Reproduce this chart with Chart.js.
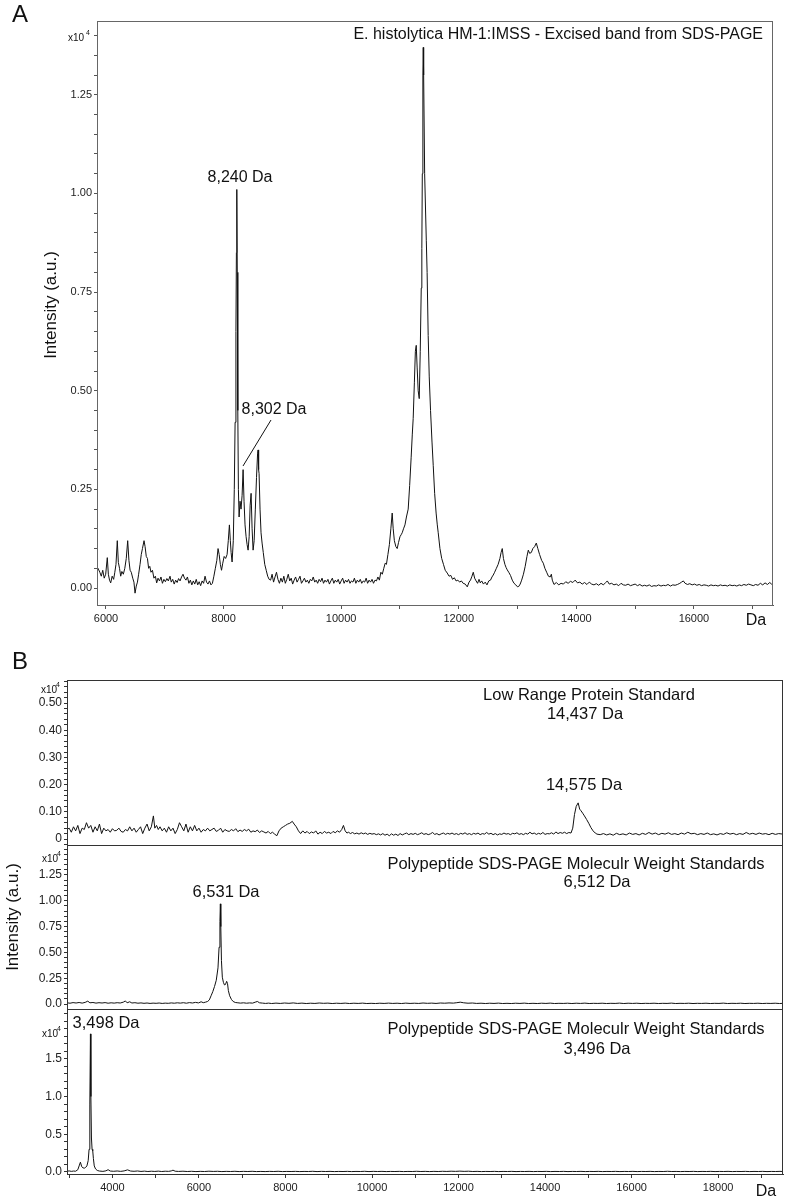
<!DOCTYPE html>
<html>
<head>
<meta charset="utf-8">
<script src="https://cdn.jsdelivr.net/npm/chart.js@4.4.1/dist/chart.umd.min.js"></script>
<style>
  html, body { margin: 0; padding: 0; background: #fff; }
  #wrap { position: relative; width: 789px; height: 1200px; }
  #wrap canvas { position: absolute; left: 0; top: 0; }
</style>
</head>
<body>
<div id="wrap">
  <canvas id="chartA" width="789" height="1200"></canvas>
  <canvas id="chartB1" width="789" height="1200"></canvas>
  <canvas id="chartB2" width="789" height="1200"></canvas>
  <canvas id="chartB3" width="789" height="1200"></canvas>
</div>
<script>
// spectra: [mass in Da, intensity x10^4]
const spectrumExcised = [
  [5847,0.054],[5870,0.048],[5895,0.040],[5920,0.030],[5945,0.045],[5970,0.025],[5995,0.035],[6022,0.077],[6040,0.035],[6060,0.020],
  [6080,0.013],[6105,0.030],[6130,0.022],[6150,0.040],[6170,0.060],[6192,0.120],[6210,0.065],[6230,0.050],[6250,0.030],[6270,0.042],
  [6295,0.035],[6320,0.050],[6345,0.075],[6369,0.120],[6390,0.070],[6410,0.045],[6430,0.040],[6455,0.025],[6475,0.015],[6494,-0.013],
  [6515,0.005],[6535,0.015],[6555,0.035],[6579,0.060],[6600,0.085],[6620,0.100],[6647,0.120],[6665,0.105],[6685,0.080],[6705,0.075],
  [6725,0.050],[6745,0.055],[6765,0.040],[6790,0.045],[6815,0.025],[6840,0.030],[6862,0.013],[6885,0.025],[6910,0.018],[6935,0.028],
  [6960,0.012],[6985,0.022],[7010,0.016],[7035,0.024],[7060,0.018],[7089,0.030],[7110,0.015],[7135,0.022],[7160,0.010],[7185,0.020],
  [7210,0.014],[7235,0.024],[7260,0.018],[7285,0.028],[7310,0.035],[7335,0.025],[7360,0.020],[7385,0.028],[7410,0.012],[7435,0.020],
  [7460,0.008],[7485,0.018],[7510,0.010],[7535,0.022],[7560,0.008],[7585,0.016],[7610,0.006],[7635,0.018],[7660,0.012],[7685,0.030],
  [7710,0.015],[7735,0.010],[7760,0.018],[7785,0.008],[7810,0.012],[7835,0.030],[7860,0.050],[7885,0.070],[7906,0.100],[7925,0.085],
  [7945,0.060],[7965,0.045],[7986,0.063],[8010,0.080],[8035,0.075],[8060,0.085],[8080,0.120],[8099,0.160],[8115,0.120],[8128,0.090],
  [8145,0.066],[8165,0.120],[8182,0.250],[8196,0.420],[8210,0.650],[8218,0.850],[8225,1.010],[8233,0.800],[8242,0.450],[8252,0.250],
  [8264,0.180],[8280,0.220],[8297,0.200],[8315,0.235],[8332,0.300],[8348,0.220],[8365,0.160],[8383,0.130],[8400,0.110],[8417,0.096],
  [8435,0.130],[8452,0.210],[8468,0.240],[8485,0.150],[8502,0.096],[8520,0.120],[8540,0.200],[8560,0.280],[8578,0.340],[8587,0.350],
  [8596,0.300],[8604,0.290],[8620,0.200],[8637,0.140],[8655,0.114],[8675,0.090],[8700,0.060],[8725,0.045],[8750,0.030],[8775,0.022],
  [8800,0.020],[8825,0.035],[8850,0.015],[8875,0.028],[8900,0.040],[8925,0.022],[8950,0.012],[8975,0.025],[9000,0.015],[9025,0.030],
  [9050,0.012],[9075,0.022],[9100,0.035],[9125,0.018],[9150,0.025],[9175,0.010],[9200,0.020],[9225,0.028],[9250,0.015],[9275,0.022],
  [9300,0.030],[9325,0.012],[9350,0.018],[9375,0.025],[9400,0.015],[9425,0.020],[9450,0.012],[9475,0.022],[9500,0.018],[9525,0.028],
  [9550,0.015],[9575,0.020],[9600,0.012],[9625,0.022],[9650,0.016],[9675,0.025],[9700,0.012],[9725,0.020],[9750,0.015],[9775,0.022],
  [9800,0.010],[9825,0.018],[9850,0.025],[9875,0.012],[9900,0.020],[9925,0.015],[9950,0.022],[9975,0.010],[10000,0.018],[10025,0.025],
  [10050,0.012],[10075,0.020],[10100,0.015],[10125,0.022],[10150,0.012],[10175,0.018],[10200,0.015],[10225,0.025],[10250,0.012],[10275,0.020],
  [10300,0.015],[10325,0.022],[10350,0.012],[10375,0.018],[10400,0.015],[10425,0.025],[10450,0.012],[10475,0.020],[10500,0.015],[10525,0.022],
  [10550,0.012],[10575,0.020],[10600,0.018],[10625,0.028],[10650,0.020],[10675,0.040],[10700,0.035],[10725,0.050],[10749,0.063],[10770,0.060],
  [10795,0.085],[10820,0.110],[10845,0.150],[10868,0.190],[10885,0.150],[10905,0.120],[10930,0.105],[10953,0.100],[10975,0.115],[11000,0.130],
  [11020,0.135],[11038,0.140],[11060,0.150],[11085,0.160],[11110,0.180],[11140,0.200],[11165,0.260],[11190,0.330],[11210,0.390],[11225,0.430],
  [11245,0.520],[11262,0.600],[11277,0.615],[11292,0.560],[11310,0.500],[11328,0.480],[11345,0.600],[11362,0.760],[11372,0.860],[11380,1.050],
  [11390,1.300],[11396,1.370],[11403,1.300],[11420,1.050],[11448,0.880],[11462,0.800],[11480,0.640],[11498,0.535],[11520,0.450],[11545,0.370],
  [11566,0.310],[11590,0.240],[11615,0.190],[11635,0.160],[11651,0.140],[11680,0.100],[11710,0.075],[11740,0.060],[11770,0.045],[11804,0.038],
  [11835,0.030],[11865,0.032],[11895,0.022],[11925,0.026],[11955,0.018],[11985,0.020],[12015,0.015],[12045,0.018],[12075,0.012],[12110,0.010],
  [12145,0.003],[12175,0.015],[12200,0.020],[12225,0.030],[12247,0.040],[12270,0.025],[12295,0.018],[12320,0.012],[12345,0.022],[12366,0.013],
  [12390,0.018],[12420,0.010],[12450,0.015],[12480,0.008],[12510,0.018],[12540,0.020],[12565,0.028],[12587,0.033],[12610,0.040],[12640,0.050],
  [12670,0.060],[12700,0.075],[12720,0.090],[12740,0.100],[12760,0.075],[12785,0.060],[12805,0.052],[12825,0.046],[12850,0.040],[12880,0.032],
  [12910,0.020],[12940,0.012],[12970,0.008],[13000,0.003],[13020,0.004],[13045,0.010],[13070,0.020],[13100,0.035],[13130,0.055],[13160,0.080],
  [13183,0.096],[13205,0.088],[13234,0.090],[13260,0.100],[13290,0.105],[13319,0.114],[13345,0.100],[13375,0.085],[13410,0.070],[13438,0.063],
  [13465,0.050],[13495,0.040],[13525,0.030],[13555,0.028],[13575,0.035],[13591,0.020],[13620,0.009],[13660,0.014],[13700,0.008],[13740,0.012],
  [13780,0.010],[13820,0.016],[13860,0.012],[13900,0.017],[13940,0.014],[13980,0.020],[14020,0.013],[14060,0.015],[14100,0.010],[14140,0.014],
  [14180,0.009],[14220,0.015],[14260,0.010],[14300,0.008],[14340,0.011],[14380,0.007],[14420,0.012],[14460,0.008],[14500,0.014],[14527,0.018],
  [14560,0.010],[14600,0.012],[14640,0.008],[14680,0.010],[14720,0.006],[14760,0.012],[14800,0.008],[14840,0.007],[14880,0.010],[14920,0.006],
  [14960,0.008],[15000,0.010],[15040,0.006],[15080,0.009],[15120,0.005],[15160,0.007],[15200,0.005],[15240,0.008],[15280,0.004],[15320,0.006],
  [15360,0.005],[15400,0.008],[15440,0.005],[15480,0.007],[15520,0.006],[15560,0.009],[15600,0.005],[15640,0.008],[15680,0.007],[15720,0.009],
  [15760,0.012],[15790,0.015],[15820,0.018],[15850,0.012],[15890,0.009],[15930,0.011],[15970,0.008],[16010,0.010],[16050,0.007],[16090,0.009],
  [16130,0.006],[16170,0.008],[16210,0.007],[16250,0.005],[16290,0.008],[16330,0.006],[16370,0.007],[16410,0.005],[16450,0.008],[16490,0.006],
  [16530,0.007],[16570,0.005],[16610,0.008],[16650,0.006],[16690,0.007],[16730,0.005],[16770,0.008],[16810,0.006],[16850,0.009],[16890,0.007],
  [16930,0.010],[16970,0.008],[17010,0.006],[17050,0.009],[17090,0.007],[17130,0.012],[17170,0.008],[17210,0.013],[17250,0.009],[17290,0.014],
  [17320,0.010],[17345,0.012]
]

const spectrumLowRange = [
  [2950,0.035],[3000,0.040],[3050,0.025],[3100,0.045],[3150,0.030],[3200,0.050],[3250,0.020],[3300,0.040],[3350,0.035],[3400,0.060],
  [3450,0.040],[3500,0.050],[3550,0.025],[3600,0.045],[3650,0.030],[3700,0.055],[3750,0.020],[3800,0.040],[3850,0.030],[3900,0.035],
  [3950,0.025],[4000,0.038],[4050,0.030],[4100,0.032],[4150,0.040],[4200,0.028],[4250,0.025],[4300,0.035],[4350,0.030],[4400,0.045],
  [4450,0.030],[4500,0.040],[4550,0.025],[4600,0.035],[4650,0.045],[4700,0.020],[4750,0.040],[4800,0.055],[4850,0.030],[4900,0.045],
  [4947,0.085],[4980,0.040],[5020,0.050],[5060,0.035],[5100,0.045],[5150,0.030],[5200,0.040],[5250,0.025],[5300,0.045],[5350,0.030],
  [5400,0.040],[5450,0.020],[5500,0.035],[5550,0.060],[5600,0.045],[5650,0.030],[5700,0.055],[5750,0.025],[5800,0.045],[5850,0.030],
  [5900,0.050],[5950,0.030],[6000,0.040],[6050,0.025],[6100,0.035],[6150,0.030],[6200,0.040],[6250,0.030],[6300,0.035],[6350,0.040],
  [6400,0.028],[6450,0.032],[6500,0.040],[6550,0.025],[6600,0.035],[6650,0.030],[6700,0.028],[6750,0.035],[6800,0.030],[6850,0.038],
  [6900,0.027],[6950,0.033],[7000,0.028],[7050,0.035],[7100,0.030],[7150,0.036],[7200,0.025],[7250,0.030],[7300,0.027],[7350,0.033],
  [7400,0.024],[7450,0.030],[7500,0.026],[7550,0.022],[7600,0.028],[7650,0.020],[7700,0.025],[7750,0.018],[7800,0.012],[7850,0.030],
  [7900,0.040],[7950,0.045],[8000,0.050],[8050,0.055],[8100,0.058],[8158,0.065],[8200,0.055],[8250,0.045],[8300,0.030],[8350,0.020],
  [8400,0.030],[8450,0.022],[8500,0.028],[8550,0.020],[8600,0.026],[8650,0.022],[8700,0.030],[8750,0.018],[8800,0.025],[8850,0.020],
  [8900,0.028],[8950,0.022],[9000,0.025],[9050,0.020],[9100,0.028],[9150,0.023],[9200,0.030],[9250,0.025],[9300,0.035],[9340,0.050],
  [9380,0.030],[9420,0.022],[9460,0.025],[9500,0.020],[9550,0.024],[9600,0.019],[9650,0.022],[9700,0.018],[9750,0.023],[9800,0.019],
  [9850,0.022],[9900,0.017],[9950,0.021],[10000,0.018],[10050,0.020],[10100,0.016],[10150,0.019],[10200,0.015],[10250,0.020],[10300,0.014],
  [10350,0.018],[10400,0.012],[10450,0.019],[10500,0.014],[10550,0.018],[10600,0.013],[10650,0.020],[10700,0.015],[10750,0.019],[10800,0.022],
  [10850,0.016],[10900,0.020],[10950,0.017],[11000,0.021],[11050,0.016],[11100,0.019],[11150,0.023],[11200,0.017],[11250,0.020],[11300,0.016],
  [11350,0.019],[11400,0.024],[11450,0.017],[11500,0.020],[11550,0.015],[11600,0.019],[11650,0.022],[11700,0.017],[11750,0.021],[11800,0.018],
  [11850,0.022],[11900,0.017],[11950,0.020],[12000,0.016],[12050,0.021],[12100,0.018],[12150,0.023],[12200,0.017],[12250,0.020],[12300,0.016],
  [12350,0.021],[12400,0.018],[12450,0.022],[12500,0.016],[12550,0.020],[12600,0.018],[12650,0.024],[12700,0.018],[12750,0.021],[12800,0.016],
  [12850,0.020],[12900,0.015],[12950,0.019],[13000,0.017],[13050,0.022],[13100,0.018],[13150,0.020],[13200,0.016],[13250,0.021],[13300,0.019],
  [13350,0.023],[13400,0.017],[13450,0.020],[13500,0.016],[13550,0.021],[13600,0.018],[13650,0.025],[13700,0.019],[13750,0.022],[13800,0.017],
  [13850,0.021],[13900,0.018],[13950,0.024],[14000,0.017],[14050,0.020],[14100,0.019],[14150,0.023],[14200,0.018],[14250,0.026],[14300,0.020],
  [14350,0.024],[14400,0.021],[14450,0.025],[14500,0.020],[14550,0.024],[14600,0.022],[14640,0.040],[14680,0.090],[14720,0.120],[14765,0.133],
  [14800,0.110],[14830,0.104],[14870,0.095],[14910,0.085],[14960,0.072],[15010,0.058],[15060,0.042],[15110,0.030],[15160,0.022],[15200,0.018],
  [15275,0.016],[15350,0.020],[15425,0.015],[15500,0.019],[15575,0.014],[15650,0.021],[15725,0.016],[15800,0.019],[15875,0.015],[15950,0.022],
  [16025,0.017],[16100,0.020],[16175,0.015],[16250,0.021],[16325,0.017],[16400,0.024],[16475,0.018],[16550,0.022],[16625,0.016],[16700,0.021],
  [16775,0.018],[16850,0.023],[16925,0.017],[17000,0.020],[17075,0.016],[17150,0.022],[17225,0.018],[17300,0.025],[17375,0.019],[17450,0.021],
  [17525,0.016],[17600,0.020],[17675,0.017],[17750,0.022],[17825,0.016],[17900,0.019],[17975,0.015],[18050,0.020],[18125,0.017],[18200,0.023],
  [18275,0.018],[18350,0.021],[18425,0.016],[18500,0.020],[18575,0.017],[18650,0.024],[18725,0.018],[18800,0.021],[18875,0.017],[18950,0.022],
  [19025,0.018],[19100,0.020],[19175,0.016],[19250,0.021],[19325,0.017],[19400,0.020],[19500,0.018]
]

const spectrumStd6512 = [
  [2950,0.012],[3020,0.008],[3090,0.014],[3160,0.010],[3230,0.015],[3300,0.009],[3370,0.016],[3430,0.028],[3480,0.012],[3550,0.015],
  [3620,0.009],[3690,0.013],[3760,0.010],[3830,0.014],[3900,0.008],[3970,0.012],[4040,0.009],[4110,0.013],[4180,0.010],[4250,0.018],
  [4300,0.030],[4340,0.012],[4400,0.022],[4450,0.010],[4520,0.013],[4590,0.008],[4660,0.011],[4730,0.007],[4800,0.010],[4870,0.006],
  [4940,0.009],[5010,0.007],[5080,0.010],[5150,0.006],[5220,0.009],[5290,0.007],[5360,0.011],[5430,0.008],[5500,0.012],[5570,0.009],
  [5640,0.013],[5710,0.008],[5780,0.014],[5850,0.010],[5920,0.016],[5990,0.011],[6050,0.022],[6100,0.013],[6150,0.018],[6200,0.025],
  [6240,0.040],[6280,0.080],[6320,0.120],[6360,0.170],[6400,0.230],[6440,0.350],[6465,0.550],[6485,0.800],[6495,0.970],[6505,0.750],
  [6520,0.420],[6540,0.260],[6565,0.210],[6590,0.185],[6615,0.190],[6640,0.220],[6660,0.200],[6680,0.130],[6710,0.080],[6750,0.045],
  [6790,0.025],[6840,0.015],[6900,0.012],[6960,0.009],[7030,0.012],[7100,0.008],[7170,0.011],[7240,0.009],[7300,0.018],[7350,0.025],
  [7400,0.012],[7470,0.009],[7540,0.006],[7610,0.009],[7680,0.005],[7780,0.009],[7880,0.006],[7980,0.010],[8080,0.007],[8180,0.011],
  [8280,0.006],[8380,0.009],[8480,0.005],[8580,0.008],[8680,0.006],[8780,0.010],[8880,0.007],[8980,0.009],[9080,0.005],[9180,0.008],
  [9280,0.006],[9380,0.009],[9480,0.005],[9580,0.008],[9680,0.006],[9780,0.009],[9880,0.005],[9980,0.007],[10080,0.005],[10180,0.008],
  [10280,0.006],[10380,0.009],[10480,0.006],[10580,0.008],[10680,0.005],[10780,0.009],[10880,0.006],[10980,0.008],[11080,0.006],[11180,0.010],
  [11280,0.007],[11380,0.009],[11480,0.006],[11580,0.010],[11680,0.008],[11780,0.011],[11880,0.009],[11960,0.013],[12040,0.018],[12120,0.012],
  [12220,0.008],[12320,0.010],[12420,0.006],[12520,0.008],[12620,0.005],[12720,0.008],[12820,0.006],[12920,0.009],[13020,0.005],[13120,0.007],
  [13220,0.005],[13320,0.008],[13420,0.006],[13520,0.009],[13620,0.005],[13720,0.007],[13820,0.005],[13920,0.008],[14020,0.006],[14120,0.009],
  [14220,0.005],[14320,0.007],[14420,0.006],[14520,0.008],[14620,0.005],[14720,0.008],[14820,0.006],[14920,0.009],[15020,0.005],[15120,0.007],
  [15220,0.006],[15320,0.008],[15420,0.005],[15520,0.007],[15620,0.006],[15720,0.009],[15820,0.005],[15920,0.008],[16020,0.006],[16120,0.008],
  [16220,0.005],[16320,0.007],[16420,0.006],[16520,0.008],[16620,0.005],[16720,0.007],[16820,0.006],[16920,0.009],[17020,0.005],[17120,0.007],
  [17220,0.006],[17320,0.008],[17420,0.005],[17520,0.007],[17620,0.006],[17720,0.008],[17820,0.005],[17920,0.007],[18020,0.006],[18120,0.009],
  [18220,0.005],[18320,0.007],[18420,0.006],[18520,0.008],[18620,0.005],[18720,0.007],[18820,0.006],[18920,0.008],[19020,0.005],[19120,0.007],
  [19220,0.006],[19320,0.008],[19420,0.005],[19500,0.007]
]

const spectrumStd3496 = [
  [2950,0.010],[3000,0.014],[3050,0.008],[3100,0.012],[3150,0.010],[3200,0.030],[3230,0.080],[3260,0.130],[3290,0.070],[3320,0.055],
  [3350,0.050],[3380,0.060],[3410,0.080],[3440,0.150],[3460,0.300],[3478,0.900],[3492,1.830],[3502,1.000],[3515,0.450],[3530,0.300],
  [3545,0.280],[3560,0.180],[3580,0.080],[3610,0.040],[3650,0.020],[3700,0.012],[3780,0.008],[3850,0.015],[3900,0.030],[3950,0.012],
  [4030,0.009],[4110,0.013],[4190,0.008],[4270,0.014],[4350,0.028],[4420,0.012],[4500,0.009],[4580,0.013],[4660,0.007],[4740,0.011],
  [4820,0.006],[4900,0.010],[4980,0.007],[5060,0.011],[5140,0.006],[5220,0.010],[5300,0.008],[5360,0.014],[5400,0.024],[5450,0.010],
  [5530,0.007],[5630,0.010],[5730,0.006],[5830,0.009],[5930,0.005],[6030,0.008],[6130,0.006],[6230,0.010],[6330,0.007],[6430,0.009],
  [6530,0.005],[6630,0.008],[6730,0.006],[6830,0.009],[6930,0.005],[7030,0.008],[7130,0.006],[7230,0.009],[7330,0.005],[7430,0.007],
  [7530,0.005],[7630,0.008],[7730,0.006],[7830,0.009],[7930,0.005],[8030,0.007],[8130,0.006],[8230,0.008],[8330,0.005],[8430,0.007],
  [8530,0.006],[8630,0.009],[8730,0.005],[8830,0.008],[8930,0.006],[9030,0.008],[9130,0.005],[9230,0.007],[9330,0.006],[9430,0.008],
  [9530,0.005],[9630,0.007],[9730,0.006],[9830,0.009],[9930,0.005],[10030,0.008],[10130,0.006],[10230,0.008],[10330,0.005],[10430,0.007],
  [10530,0.006],[10630,0.008],[10730,0.005],[10830,0.007],[10930,0.006],[11030,0.009],[11130,0.006],[11230,0.008],[11330,0.005],[11430,0.008],
  [11530,0.006],[11630,0.009],[11730,0.007],[11830,0.010],[11930,0.008],[12030,0.011],[12130,0.008],[12230,0.010],[12330,0.006],[12430,0.008],
  [12530,0.005],[12630,0.007],[12730,0.006],[12830,0.008],[12930,0.005],[13030,0.007],[13130,0.006],[13230,0.008],[13330,0.005],[13430,0.007],
  [13530,0.006],[13630,0.008],[13730,0.005],[13830,0.007],[13930,0.006],[14030,0.008],[14130,0.005],[14230,0.007],[14330,0.006],[14430,0.008],
  [14530,0.005],[14630,0.007],[14730,0.006],[14830,0.008],[14930,0.005],[15030,0.007],[15130,0.006],[15230,0.008],[15330,0.005],[15430,0.007],
  [15530,0.006],[15630,0.008],[15730,0.005],[15830,0.007],[15930,0.006],[16030,0.008],[16130,0.005],[16230,0.007],[16330,0.006],[16430,0.008],
  [16530,0.005],[16630,0.007],[16730,0.006],[16830,0.009],[16930,0.006],[17030,0.007],[17130,0.005],[17230,0.007],[17330,0.006],[17430,0.008],
  [17530,0.005],[17630,0.007],[17730,0.006],[17830,0.008],[17930,0.005],[18030,0.007],[18130,0.006],[18230,0.008],[18330,0.005],[18430,0.007],
  [18530,0.006],[18630,0.008],[18730,0.005],[18830,0.007],[18930,0.006],[19030,0.008],[19130,0.005],[19230,0.007],[19330,0.006],[19430,0.008],
  [19500,0.006]
]

const FONT = "'Liberation Sans', Arial, Helvetica, sans-serif"

function toPoints(pairs) {
  return pairs.map(p => ({x: p[0], y: p[1]}))
}

function isMultiple(v, step) {
  const r = v / step
  return Math.abs(r - Math.round(r)) < 1e-6
}

// ticks at every multiple of step inside the axis range
function stepTicks(scale, step) {
  const ticks = []
  for (let k = Math.ceil(scale.min / step - 1e-9); k * step <= scale.max + 1e-9; k++) {
    ticks.push({value: Math.round(k * step * 1e6) / 1e6})
  }
  scale.ticks = ticks
}

// outline round the plot area
const framePlugin = {
  id: 'frame',
  afterDraw(chart, args, opts) {
    const {ctx, chartArea: a} = chart
    ctx.save()
    ctx.strokeStyle = opts.color
    ctx.lineWidth = 1
    ctx.strokeRect(Math.round(a.left) + 0.5, Math.round(a.top) + 0.5,
      Math.round(a.right - a.left) - 1, Math.round(a.bottom - a.top))
    ctx.restore()
  }
}

// panel letters, titles, peak labels
const notesPlugin = {
  id: 'notes',
  afterDraw(chart, args, opts) {
    const ctx = chart.ctx
    ctx.save()
    ctx.fillStyle = '#111'
    ctx.strokeStyle = '#111'
    ctx.textBaseline = 'middle'
    for (const n of opts.items) {
      ctx.font = n.size + 'px ' + FONT
      ctx.textAlign = n.align || 'center'
      if (n.rotate) {
        ctx.save()
        ctx.translate(n.x, n.y)
        ctx.rotate(-Math.PI / 2)
        ctx.fillText(n.text, 0, 0)
        ctx.restore()
      } else {
        ctx.fillText(n.text, n.x, n.y)
      }
    }
    for (const l of opts.lines || []) {
      ctx.lineWidth = 1
      ctx.beginPath()
      ctx.moveTo(l[0], l[1])
      ctx.lineTo(l[2], l[3])
      ctx.stroke()
    }
    ctx.restore()
  }
}

function axisY(o) {
  return {
    type: 'linear',
    min: o.min,
    max: o.max,
    afterFit: s => { s.width = o.width },
    afterBuildTicks: s => stepTicks(s, o.step),
    border: {display: true, color: o.color},
    grid: {display: true, drawOnChartArea: false, drawTicks: true, tickLength: 3, color: o.color},
    ticks: {
      autoSkip: false, padding: 2,
      color: '#222', font: {family: FONT, size: o.fontSize},
      callback: v => (isMultiple(v, o.major) && v <= o.labelMax + 1e-9) ? o.format(v) : ''
    }
  }
}

function axisX(o) {
  return {
    type: 'linear',
    min: o.min,
    max: o.max,
    display: o.show,
    afterFit: s => { s.height = o.height },
    afterBuildTicks: s => stepTicks(s, 1000),
    border: {display: true, color: o.color},
    grid: {display: true, drawOnChartArea: false, drawTicks: true, tickLength: 4, color: o.color},
    ticks: {
      autoSkip: false, maxRotation: 0, minRotation: 0, padding: 3,
      color: '#222', font: {family: FONT, size: 11},
      callback: v => isMultiple(v, 2000) ? String(Math.round(v)) : ''
    }
  }
}

function spectrumChart(canvasId, pairs, xAxis, yAxis, padding, frameColor, items, lines) {
  return new Chart(document.getElementById(canvasId), {
    type: 'line',
    data: {
      datasets: [{
        data: toPoints(pairs),
        borderColor: '#111',
        borderWidth: 1,
        pointRadius: 0,
        tension: 0,
        fill: false
      }]
    },
    options: {
      responsive: false,
      animation: false,
      events: [],
      layout: {padding: padding},
      scales: {x: xAxis, y: yAxis},
      plugins: {
        legend: {display: false},
        tooltip: {enabled: false},
        frame: {color: frameColor},
        notes: {items: items, lines: lines}
      }
    },
    plugins: [framePlugin, notesPlugin]
  })
}

const fmt2 = v => v.toFixed(2)

// panel A
spectrumChart('chartA', spectrumExcised,
  axisX({min: 5847, max: 17345, show: true, height: 30, color: '#555'}),
  axisY({min: -0.043, max: 1.437, step: 0.05, major: 0.25, labelMax: 1.25, format: fmt2, width: 97, fontSize: 11, color: '#555'}),
  {left: 0, top: 21, right: 16, bottom: 565}, '#666',
  [
    {text: 'A', x: 20, y: 15, size: 24},
    {text: 'E. histolytica HM-1:IMSS - Excised band from SDS-PAGE', x: 763, y: 35, size: 16, align: 'right'},
    {text: '8,240 Da', x: 240, y: 178, size: 16},
    {text: '8,302 Da', x: 274, y: 410, size: 16},
    {text: 'Intensity (a.u.)', x: 51, y: 305, size: 17, rotate: true},
    {text: 'Da', x: 756, y: 621, size: 16},
    {text: 'x10', x: 68, y: 38, size: 10, align: 'left'},
    {text: '4', x: 86, y: 33, size: 7, align: 'left'}
  ],
  [[271, 420, 243, 466]])

// panel B, three stacked spectra on one mass range
spectrumChart('chartB1', spectrumLowRange,
  axisX({min: 2950, max: 19500, show: false, height: 0, color: '#333'}),
  axisY({min: -0.022, max: 0.585, step: 0.02, major: 0.1, labelMax: 0.5, format: v => v === 0 ? '0' : fmt2(v), width: 67, fontSize: 12, color: '#333'}),
  {left: 0, top: 680, right: 6, bottom: 355}, '#333',
  [
    {text: 'B', x: 20, y: 662, size: 24},
    {text: 'Low Range Protein Standard', x: 589, y: 695, size: 16.5},
    {text: '14,437 Da', x: 585, y: 714, size: 16.5},
    {text: '14,575 Da', x: 584, y: 785, size: 16.5},
    {text: 'x10', x: 41, y: 690, size: 10, align: 'left'},
    {text: '4', x: 56, y: 685, size: 7, align: 'left'}
  ], [])

spectrumChart('chartB2', spectrumStd6512,
  axisX({min: 2950, max: 19500, show: false, height: 0, color: '#333'}),
  axisY({min: -0.048, max: 1.54, step: 0.05, major: 0.25, labelMax: 1.25, format: v => v === 0 ? '0.0' : fmt2(v), width: 67, fontSize: 12, color: '#333'}),
  {left: 0, top: 845, right: 6, bottom: 191}, '#333',
  [
    {text: 'Polypeptide SDS-PAGE Moleculr Weight Standards', x: 576, y: 864, size: 16.5},
    {text: '6,512 Da', x: 597, y: 882, size: 16.5},
    {text: '6,531 Da', x: 226, y: 892, size: 16.5},
    {text: 'Intensity (a.u.)', x: 13, y: 917, size: 17, rotate: true},
    {text: 'x10', x: 42, y: 859, size: 10, align: 'left'},
    {text: '4', x: 57, y: 854, size: 7, align: 'left'}
  ], [])

spectrumChart('chartB3', spectrumStd3496,
  axisX({min: 2950, max: 19500, show: true, height: 26, color: '#333'}),
  axisY({min: -0.027, max: 2.16, step: 0.1, major: 0.5, labelMax: 1.5, format: v => v.toFixed(1), width: 67, fontSize: 12, color: '#333'}),
  {left: 0, top: 1009, right: 6, bottom: 0}, '#333',
  [
    {text: 'Polypeptide SDS-PAGE Moleculr Weight Standards', x: 576, y: 1029, size: 16.5},
    {text: '3,496 Da', x: 597, y: 1049, size: 16.5},
    {text: '3,498 Da', x: 106, y: 1023, size: 16.5},
    {text: 'Da', x: 766, y: 1192, size: 16},
    {text: 'x10', x: 42, y: 1034, size: 10, align: 'left'},
    {text: '4', x: 57, y: 1029, size: 7, align: 'left'}
  ], [])
</script>
</body>
</html>
